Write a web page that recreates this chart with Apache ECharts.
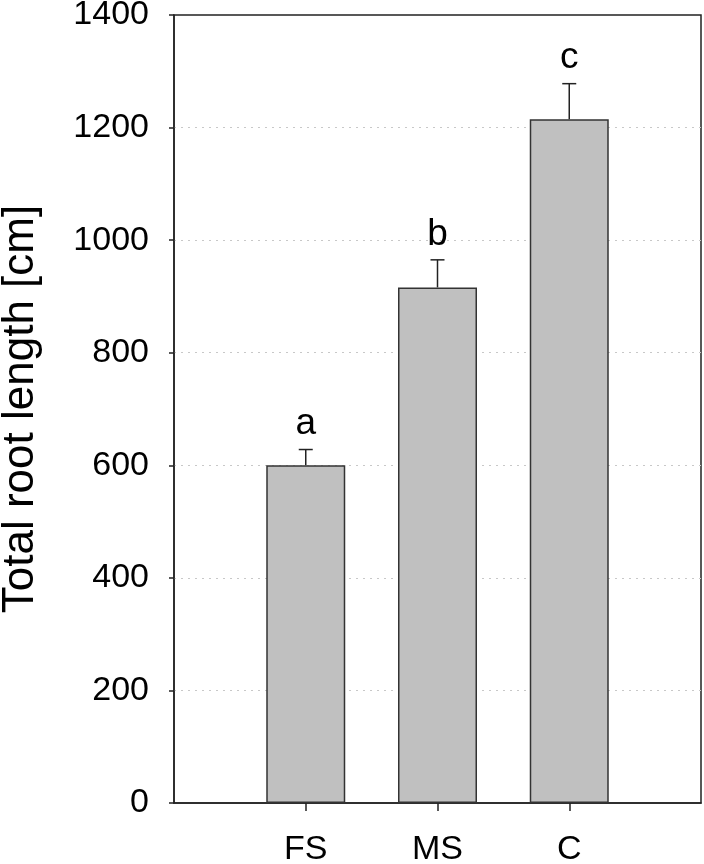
<!DOCTYPE html>
<html>
<head>
<meta charset="utf-8">
<script src="https://cdn.jsdelivr.net/npm/echarts@6/dist/echarts.min.js"></script>
<style>
  html, body { margin: 0; padding: 0; background: #fff; }
  #chart { width: 704px; height: 864px; }
</style>
</head>
<body>
<div id="chart"></div>
<script>
// categories (blank slots at both ends keep the bars at 1/4, 2/4, 3/4 of the width)
const categories = ['', 'FS', 'MS', 'C', ''];
const rootLength = ['-', 600, 916, 1215, '-'];
const stdError = [0, 28, 49, 63, 0];
const sigLetters = ['', 'a', 'b', 'c', ''];

const yTicks = { min: 0, max: 1400, interval: 200 };
const FONT = '"Liberation Sans", Arial, sans-serif';

const chart = echarts.init(document.getElementById('chart'), null, { renderer: 'canvas' });

// error bar + letter for each bar
const errData = [];
for (let i = 0; i < categories.length; i++) {
  if (rootLength[i] === '-') continue;
  errData.push([i, rootLength[i], rootLength[i] + stdError[i], sigLetters[i]]);
}

function renderErr(params, api) {
  const x = api.value(0);
  const base = api.coord([x, api.value(1)]);
  const top = api.coord([x, api.value(2)]);
  const half = 7;
  const style = { stroke: '#222', lineWidth: 1.5 };
  return {
    type: 'group',
    children: [
      { type: 'line', shape: { x1: base[0], y1: base[1], x2: top[0], y2: top[1] }, style: style },
      { type: 'line', shape: { x1: top[0] - half, y1: top[1], x2: top[0] + half, y2: top[1] }, style: style },
      {
        type: 'text',
        x: top[0], y: top[1] - 7,
        style: {
          text: api.value(3),
          font: '37px ' + FONT,
          fill: '#000',
          align: 'center',
          verticalAlign: 'bottom'
        }
      }
    ]
  };
}

const option = {
  animation: false,
  backgroundColor: '#fff',
  grid: {
    left: 174, right: 3, top: 15, bottom: 61,
    outerBoundsMode: 'none',
    containLabel: false,
    show: true, borderColor: '#222', borderWidth: 1.5, backgroundColor: 'transparent'
  },
  xAxis: {
    type: 'category',
    data: categories,
    boundaryGap: false,
    axisLine: { lineStyle: { color: '#222', width: 1.5 } },
    axisTick: {
      length: 8,
      interval: (idx, val) => val !== '',
      lineStyle: { color: '#222', width: 1.5 }
    },
    axisLabel: {
      interval: 0,
      margin: 30,
      color: '#000',
      fontSize: 34,
      fontFamily: FONT
    },
    splitLine: { show: false }
  },
  yAxis: {
    type: 'value',
    min: yTicks.min, max: yTicks.max, interval: yTicks.interval,
    name: 'Total root length [cm]',
    nameLocation: 'middle',
    nameGap: 131,
    nameTextStyle: { fontSize: 44, color: '#000', fontFamily: FONT },
    axisLine: { show: true, lineStyle: { color: '#222', width: 1.5 } },
    axisTick: { show: true, length: 5, lineStyle: { color: '#222', width: 1.5 } },
    axisLabel: {
      margin: 25,
      color: '#000',
      fontSize: 34,
      fontFamily: FONT,
      formatter: v => String(v)
    },
    splitLine: {
      show: true, showMinLine: false, showMaxLine: false,
      lineStyle: { color: '#c8c8c8', type: [2, 5], width: 1 }
    }
  },
  series: [
    {
      type: 'bar',
      data: rootLength,
      barWidth: 79,
      itemStyle: { color: '#c0c0c0', borderColor: '#333', borderWidth: 1.5 },
      z: 2
    },
    {
      type: 'custom',
      renderItem: renderErr,
      data: errData,
      encode: { x: 0, y: [1, 2] },
      z: 3
    }
  ]
};

chart.setOption(option);
</script>
</body>
</html>
